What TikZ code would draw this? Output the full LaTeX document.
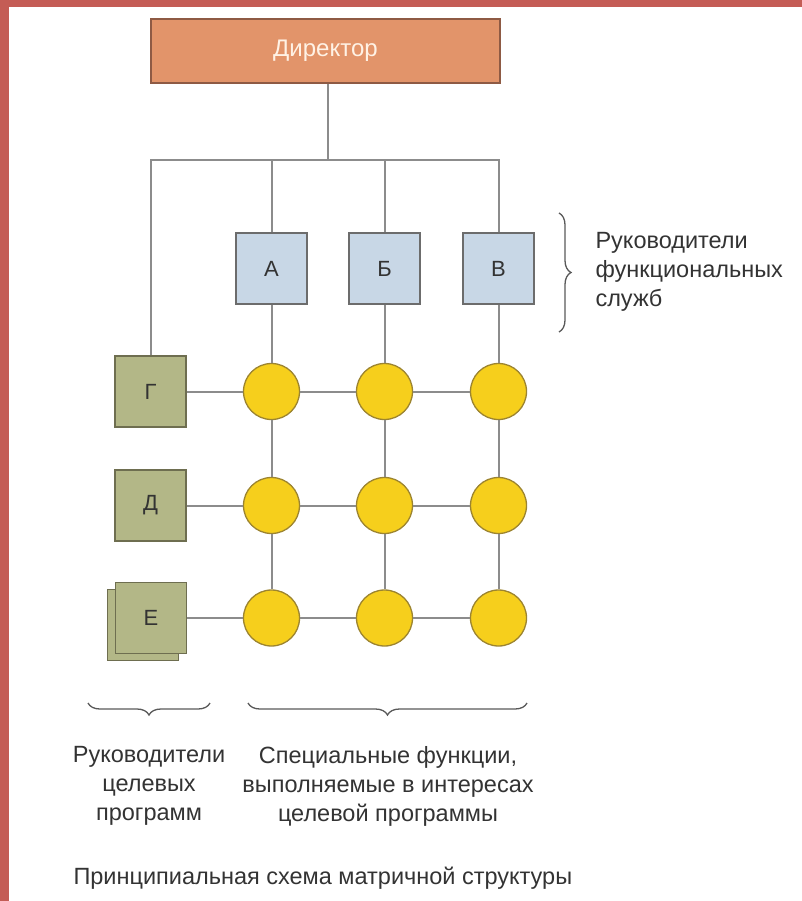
\documentclass[tikz,border=0pt]{standalone}
\usepackage{fontspec}
\setmainfont{Liberation Sans}
\usepackage{tikz}
\usetikzlibrary{positioning, calc, decorations.pathreplacing}

\definecolor{frame}{HTML}{C45C55}
\definecolor{dirfill}{HTML}{E2946A}
\definecolor{dirline}{HTML}{8E5A44}
\definecolor{funfill}{HTML}{C8D7E6}
\definecolor{progfill}{HTML}{B3B787}
\definecolor{progline}{HTML}{6E6E50}
\definecolor{cellfill}{HTML}{F6CF1C}
\definecolor{cellline}{HTML}{9C8430}
\definecolor{wire}{HTML}{8C8C8C}
\definecolor{txt}{HTML}{333333}

\begin{document}
\begin{tikzpicture}[x=1pt, y=-1pt,
    wire/.style={draw=wire, line width=2pt},
    funbox/.style={draw=gray!85!black, line width=1.3pt, fill=funfill, minimum width=71pt, minimum height=71pt, font=\fontsize{22}{26}\selectfont, text=txt},
    progbox/.style={draw=progline, line width=1.3pt, fill=progfill, minimum width=71pt, minimum height=71pt, font=\fontsize{22}{26}\selectfont, text=txt},
    cell/.style={circle, draw=cellline, line width=1.3pt, fill=cellfill, minimum size=56pt, inner sep=0pt},
    brace/.style={draw=gray!70!black, line width=1.3pt, decorate, decoration={brace, amplitude=12pt}},
    label/.style={font=\fontsize{23.5}{29}\selectfont, text=txt}]
    \useasboundingbox (0,0) rectangle (802,901);
    \fill[frame] (0,0) rectangle (802,7);
    \fill[frame] (0,0) rectangle (9,901);
    % director and functional heads
    \node[draw=dirline, line width=1.3pt, fill=dirfill, minimum width=349pt, minimum height=64pt, font=\fontsize{24}{28}\selectfont, text=white!90!orange] (dir) at (325.5,51) {Директор};
    \coordinate (hub) at (328,160);
    \node[funbox] (fa) at (271.5,268.5) {А};
    \node[funbox] (fb) at (384.5,268.5) {Б};
    \node[funbox] (fv) at (498.5,268.5) {В};
    % programme heads
    \node[progbox] (pg) at (150.5,391.5) {Г};
    \node[progbox] (pd) at (150.5,505.5) {Д};
    \node[progbox] (pe2) at (143,625) {};
    \node[progbox] (pe) at (151,618) {Е};
    % cells
    \foreach \row/\y in {1/391.5, 2/505.5, 3/618} {
        \node[cell] (c\row1) at (271.5,\y) {};
        \node[cell] (c\row2) at (384.5,\y) {};
        \node[cell] (c\row3) at (498.5,\y) {};
    }
    \draw[wire] (hub |- dir.south) -- (hub);
    \draw[wire] (pg.north) |- (hub) -| (fv.north);
    \draw[wire] (fa.north) -- (fa.north |- hub);
    \draw[wire] (fb.north) -- (fb.north |- hub);
    \draw[wire] (fa) -- (c11) -- (c21) -- (c31);
    \draw[wire] (fb) -- (c12) -- (c22) -- (c32);
    \draw[wire] (fv) -- (c13) -- (c23) -- (c33);
    \draw[wire] (pg) -- (c11) -- (c12) -- (c13);
    \draw[wire] (pd) -- (c21) -- (c22) -- (c23);
    \draw[wire] (pe) -- (c31) -- (c32) -- (c33);
    % braces and labels
    \draw[brace] (559,213) -- (559,332);
    \node[label, anchor=west, align=left] (funlbl) at (592,272) {Руководители\\функциональных\\служб};
    \draw[brace] (210,703) -- (88,703);
    \draw[brace] (527,703) -- (248,703);
    \node[label, align=center] (proglbl) at (149,786) {Руководители\\целевых\\программ};
    \node[label, align=center] (celllbl) at (388,786) {Специальные функции,\\выполняемые в интересах\\целевой программы};
    \node[label, anchor=west] (caption) at (70,878) {Принципиальная схема матричной структуры};
\end{tikzpicture}
\end{document}
